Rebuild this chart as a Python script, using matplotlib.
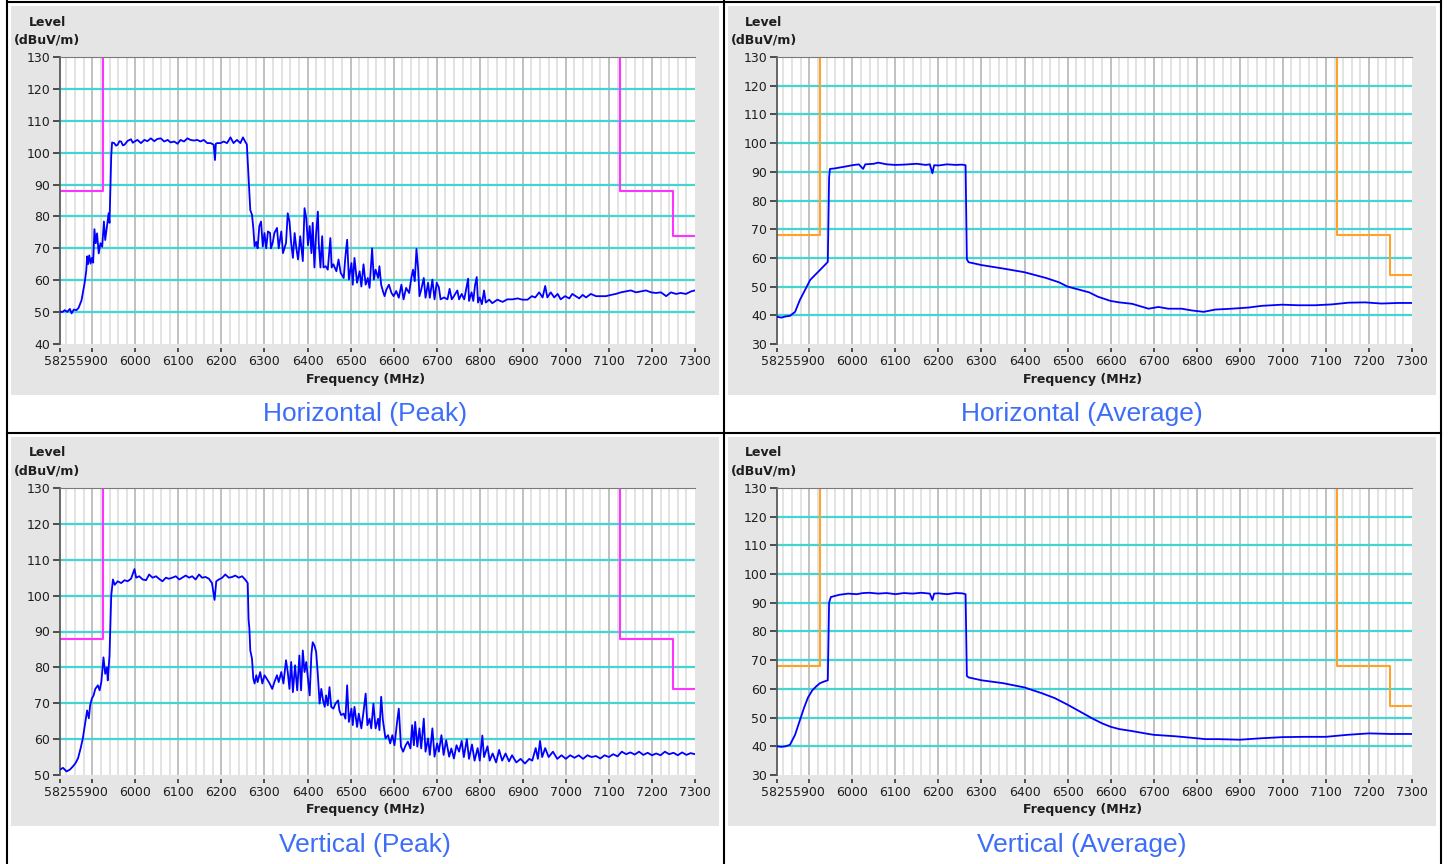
import matplotlib
matplotlib.use('Agg')
import matplotlib.pyplot as plt
from matplotlib.patches import Rectangle
from matplotlib.lines import Line2D

# --- data ------------------------------------------------------------------
x_ticks = [5825, 5900, 6000, 6100, 6200, 6300, 6400, 6500, 6600, 6700,
           6800, 6900, 7000, 7100, 7200, 7300]

# limit lines (dBuV/m)
peak_limit_lo_freq = [5825, 5925, 5925]
peak_limit_lo_level = [88, 88, 130]
peak_limit_hi_freq = [7125, 7125, 7250, 7250, 7300]
peak_limit_hi_level = [130, 88, 88, 74, 74]
avg_limit_lo_freq = [5825, 5925, 5925]
avg_limit_lo_level = [68, 68, 130]
avg_limit_hi_freq = [7125, 7125, 7250, 7250, 7300]
avg_limit_hi_level = [130, 68, 68, 54, 54]

# Horizontal (Peak)
h_peak_freq = [
    5825, 5830, 5836, 5842, 5848, 5852, 5857, 5863, 5868, 5875, 5882, 5886, 5888, 5890, 5893, 5896,
    5899, 5902, 5905, 5908, 5911, 5915, 5919, 5923, 5927, 5930, 5934, 5938, 5940, 5944, 5946, 5951,
    5955, 5959, 5963, 5967, 5971, 5975, 5982, 5990, 5994, 5998, 6005, 6013, 6021, 6028, 6036, 6044,
    6051, 6059, 6067, 6075, 6082, 6090, 6098, 6105, 6113, 6121, 6128, 6136, 6144, 6151, 6159, 6167,
    6175, 6182, 6185, 6187, 6190, 6198, 6205, 6213, 6221, 6228, 6236, 6244, 6250, 6255, 6259, 6263,
    6265, 6267, 6271, 6274, 6277, 6281, 6284, 6288, 6292, 6296, 6300, 6304, 6308, 6313, 6315, 6319,
    6323, 6329, 6333, 6339, 6343, 6350, 6354, 6358, 6362, 6366, 6370, 6374, 6378, 6383, 6389, 6393,
    6397, 6401, 6405, 6409, 6412, 6416, 6420, 6424, 6426, 6430, 6434, 6437, 6442, 6447, 6453, 6456,
    6460, 6467, 6472, 6477, 6484, 6488, 6492, 6496, 6502, 6505, 6509, 6515, 6521, 6525, 6530, 6535,
    6540, 6544, 6550, 6554, 6558, 6564, 6567, 6571, 6575, 6579, 6583, 6589, 6595, 6600, 6606, 6612,
    6618, 6623, 6629, 6636, 6641, 6645, 6649, 6653, 6657, 6660, 6664, 6670, 6674, 6680, 6684, 6690,
    6695, 6700, 6705, 6709, 6717, 6725, 6730, 6735, 6740, 6748, 6752, 6758, 6764, 6767, 6773, 6775,
    6781, 6785, 6789, 6793, 6796, 6800, 6805, 6810, 6814, 6822, 6829, 6841, 6853, 6864, 6876, 6888,
    6899, 6911, 6921, 6929, 6938, 6946, 6952, 6957, 6965, 6973, 6981, 6988, 6998, 7008, 7015, 7023,
    7031, 7039, 7047, 7058, 7070, 7081, 7093, 7105, 7116, 7128, 7140, 7151, 7163, 7174, 7186, 7198,
    7209, 7221, 7233, 7244, 7256, 7267, 7279, 7291, 7300]
h_peak_level = [
    50.2, 50.0, 50.6, 50.1, 51.0, 49.6, 50.8, 50.6, 51.3, 53.7, 59.0, 63.0, 67.5, 65.0, 67.8, 65.2,
    67.0, 65.5, 76.0, 71.6, 74.7, 68.4, 71.6, 70.5, 78.4, 72.6, 76.8, 81.0, 78.0, 99.0, 103.2, 103.0,
    102.2, 102.5, 103.6, 103.5, 102.3, 102.5, 103.7, 104.2, 103.1, 103.5, 104.0, 103.0, 104.0, 103.6, 104.5, 103.6,
    104.3, 104.5, 103.5, 104.0, 103.2, 103.5, 102.8, 104.0, 103.5, 104.5, 104.0, 103.8, 104.0, 103.5, 104.0, 103.0,
    103.0, 102.5, 97.7, 102.8, 103.0, 103.0, 103.5, 103.0, 104.8, 103.0, 104.0, 103.0, 104.8, 103.5, 102.6, 92.6,
    88.0, 82.0, 80.5, 76.4, 70.6, 72.0, 70.0, 77.0, 78.4, 70.6, 74.8, 70.0, 75.3, 74.8, 70.0, 71.7,
    74.8, 76.4, 70.0, 75.3, 68.5, 71.7, 81.0, 78.4, 71.7, 67.0, 74.8, 70.0, 66.5, 73.8, 66.0, 82.6,
    79.5, 71.0, 77.0, 68.5, 78.0, 64.0, 74.8, 81.5, 71.7, 64.0, 73.8, 64.0, 64.4, 63.3, 73.2, 64.0,
    65.0, 62.8, 66.5, 62.3, 60.7, 67.5, 72.7, 60.2, 65.4, 58.6, 67.0, 59.2, 62.8, 58.0, 65.0, 58.6,
    60.7, 57.6, 70.0, 60.2, 63.3, 60.7, 64.4, 58.6, 56.6, 55.0, 57.0, 58.6, 56.0, 55.0, 56.6, 54.5,
    58.6, 54.0, 57.6, 56.0, 60.7, 63.3, 59.7, 69.8, 63.3, 55.0, 57.0, 60.7, 54.5, 59.2, 54.5, 60.2,
    54.0, 59.2, 57.8, 54.0, 54.6, 54.0, 57.3, 54.0, 55.0, 56.8, 54.0, 55.7, 54.0, 56.2, 60.5, 53.5,
    56.2, 53.5, 58.4, 61.0, 53.0, 54.6, 52.5, 56.8, 53.0, 53.9, 52.8, 53.9, 53.2, 54.0, 54.0, 54.3,
    53.9, 53.9, 55.0, 54.6, 56.2, 54.6, 58.2, 54.6, 56.2, 54.6, 55.7, 54.0, 55.0, 54.3, 55.7, 55.0,
    54.3, 55.4, 54.6, 55.7, 55.0, 55.0, 55.0, 55.4, 55.7, 56.2, 56.5, 56.8, 56.2, 56.5, 56.8, 56.2,
    56.0, 56.2, 55.0, 56.2, 55.7, 56.0, 55.7, 56.5, 56.8]

# Vertical (Peak)
v_peak_freq = [
    5825, 5832, 5840, 5848, 5855, 5861, 5867, 5873, 5878, 5884, 5888, 5892, 5895, 5899, 5903, 5907,
    5913, 5917, 5921, 5926, 5930, 5934, 5936, 5940, 5944, 5948, 5952, 5959, 5967, 5975, 5982, 5990,
    5998, 6002, 6009, 6017, 6025, 6032, 6040, 6048, 6055, 6063, 6071, 6078, 6086, 6094, 6102, 6109,
    6117, 6125, 6132, 6140, 6148, 6155, 6163, 6171, 6178, 6184, 6188, 6194, 6202, 6209, 6217, 6225,
    6232, 6240, 6248, 6255, 6261, 6263, 6265, 6267, 6271, 6274, 6277, 6281, 6284, 6290, 6295, 6300,
    6305, 6312, 6318, 6323, 6329, 6333, 6339, 6344, 6350, 6354, 6358, 6362, 6366, 6371, 6376, 6381,
    6385, 6389, 6393, 6397, 6401, 6405, 6409, 6412, 6416, 6420, 6424, 6428, 6432, 6436, 6440, 6443,
    6447, 6451, 6455, 6460, 6465, 6471, 6474, 6478, 6484, 6488, 6492, 6496, 6502, 6505, 6509, 6515,
    6519, 6525, 6530, 6535, 6539, 6544, 6548, 6553, 6558, 6564, 6567, 6571, 6575, 6581, 6587, 6592,
    6597, 6602, 6608, 6612, 6617, 6622, 6628, 6633, 6639, 6643, 6647, 6650, 6655, 6660, 6664, 6670,
    6674, 6680, 6684, 6690, 6695, 6701, 6705, 6711, 6716, 6722, 6729, 6734, 6740, 6746, 6752, 6758,
    6763, 6770, 6775, 6782, 6788, 6795, 6800, 6806, 6810, 6818, 6823, 6830, 6838, 6845, 6852, 6860,
    6868, 6875, 6885, 6895, 6905, 6915, 6922, 6930, 6935, 6940, 6945, 6952, 6960, 6970, 6980, 6990,
    7000, 7010, 7020, 7030, 7040, 7050, 7060, 7070, 7080, 7090, 7100, 7110, 7120, 7130, 7140, 7150,
    7160, 7170, 7180, 7190, 7200, 7210, 7220, 7230, 7240, 7250, 7260, 7270, 7280, 7290, 7300]
v_peak_level = [
    51.5, 52.0, 51.0, 51.5, 52.4, 53.3, 54.7, 57.5, 60.2, 64.8, 68.0, 65.8, 69.4, 71.3, 72.2, 74.0,
    75.0, 73.6, 75.9, 82.8, 78.2, 80.0, 76.4, 83.3, 100.0, 104.5, 103.0, 104.0, 103.5, 104.3, 104.0, 104.7,
    107.4, 105.0, 105.4, 104.5, 104.3, 105.9, 105.0, 105.4, 104.7, 104.0, 105.0, 104.7, 105.0, 105.4, 104.5, 105.0,
    105.6, 105.0, 105.4, 104.5, 105.9, 105.0, 105.2, 104.7, 103.5, 98.8, 104.0, 104.5, 105.0, 105.9, 105.0, 105.2,
    105.6, 105.0, 105.4, 104.5, 103.5, 93.4, 90.7, 84.7, 82.4, 76.9, 75.5, 77.8, 75.9, 78.7, 75.5, 77.8,
    76.9, 75.5, 74.0, 75.9, 77.8, 75.9, 78.7, 75.5, 82.0, 78.7, 74.0, 81.5, 73.1, 80.6, 73.6, 83.3,
    73.6, 84.7, 78.7, 81.5, 76.9, 72.2, 83.8, 87.0, 86.1, 84.3, 77.8, 69.9, 74.0, 70.8, 69.0, 72.2,
    69.4, 74.5, 69.0, 68.5, 69.9, 70.8, 68.0, 66.7, 67.1, 65.7, 75.0, 64.8, 68.5, 63.9, 69.0, 63.4,
    67.1, 63.0, 67.6, 72.7, 63.9, 65.7, 63.0, 69.9, 63.0, 65.7, 62.5, 71.8, 65.3, 60.2, 61.1, 58.8,
    61.1, 58.3, 64.8, 68.5, 57.9, 56.5, 58.3, 59.3, 57.4, 63.9, 58.3, 64.8, 57.9, 63.0, 57.4, 65.7,
    56.5, 60.2, 55.6, 63.0, 55.1, 58.8, 56.5, 61.1, 55.6, 59.7, 55.1, 57.4, 54.6, 58.3, 56.5, 59.5,
    55.0, 60.0, 54.5, 58.5, 54.0, 57.5, 54.0, 61.0, 55.0, 58.0, 54.0, 56.0, 53.5, 57.0, 54.0, 56.0,
    53.8, 55.5, 53.5, 54.5, 53.2, 54.5, 54.0, 57.5, 54.5, 59.5, 55.0, 57.5, 55.0, 56.5, 54.5, 55.5,
    54.5, 55.5, 54.8, 55.5, 54.5, 55.5, 55.0, 55.3, 54.6, 55.5, 55.0, 55.8, 55.2, 56.5, 55.8, 56.3,
    55.7, 56.5, 55.6, 56.2, 55.5, 56.0, 55.5, 56.5, 55.8, 56.2, 55.5, 56.3, 55.6, 56.1, 55.8]

# Horizontal (Average)
h_avg_freq = [
    5825, 5835, 5845, 5855, 5867, 5878, 5890, 5902, 5913, 5925, 5936, 5943, 5946, 5948, 5960, 5975,
    5990, 6000, 6015, 6025, 6030, 6050, 6060, 6080, 6100, 6120, 6150, 6170, 6180, 6186, 6190, 6200,
    6220, 6240, 6255, 6263, 6266, 6270, 6300, 6350, 6400, 6450, 6480, 6500, 6550, 6570, 6600, 6620,
    6650, 6688, 6711, 6734, 6765, 6788, 6816, 6843, 6881, 6920, 6951, 6998, 7036, 7075, 7114, 7153,
    7191, 7229, 7268, 7300]
h_avg_level = [
    39.5, 39.2, 39.6, 39.8, 41.2, 45.3, 48.8, 52.3, 54.0, 55.8, 57.5, 58.6, 88.0, 91.0, 91.2, 91.6,
    92.0, 92.3, 92.6, 91.0, 92.6, 92.8, 93.2, 92.6, 92.4, 92.5, 92.8, 92.4, 92.6, 89.5, 92.3, 92.2,
    92.6, 92.4, 92.5, 92.3, 59.5, 58.5, 57.5, 56.3, 55.0, 53.0, 51.5, 50.0, 48.0, 46.5, 45.0, 44.5,
    44.0, 42.3, 42.9, 42.3, 42.3, 41.7, 41.2, 42.0, 42.3, 42.7, 43.3, 43.7, 43.5, 43.5, 43.8, 44.4,
    44.5, 44.1, 44.3, 44.3]

# Vertical (Average)
v_avg_freq = [
    5825, 5835, 5845, 5855, 5867, 5878, 5888, 5897, 5907, 5917, 5925, 5935, 5943, 5946, 5950, 5970,
    5990, 6010, 6025, 6040, 6060, 6080, 6100, 6120, 6140, 6160, 6180, 6186, 6190, 6200, 6220, 6240,
    6255, 6263, 6266, 6270, 6300, 6350, 6400, 6440, 6470, 6500, 6530, 6560, 6580, 6600, 6620, 6650,
    6680, 6700, 6750, 6800, 6820, 6850, 6900, 6950, 7000, 7050, 7100, 7150, 7200, 7250, 7300]
v_avg_level = [
    40.0, 39.8, 40.0, 40.5, 44.0, 49.0, 53.5, 57.0, 59.5, 61.0, 62.0, 62.6, 63.0, 90.0, 92.0, 92.8,
    93.2, 93.0, 93.4, 93.5, 93.2, 93.4, 93.0, 93.4, 93.2, 93.5, 93.2, 91.0, 93.2, 93.3, 93.0, 93.4,
    93.3, 93.0, 64.5, 64.0, 63.0, 62.0, 60.5, 58.5, 56.8, 54.5, 52.0, 49.5, 48.0, 46.8, 46.0, 45.3,
    44.5, 44.0, 43.5, 42.8, 42.5, 42.5, 42.3, 42.8, 43.2, 43.3, 43.3, 44.0, 44.5, 44.3, 44.3]

# --- layout ---------------------------------------------------------------
W, H = 1449, 864
fig = plt.figure(figsize=(W / 100, H / 100), dpi=100)
fig.patch.set_facecolor('white')


def fx(px):
    return px / W


def fy(py):
    return 1 - py / H


BLUE = '#0000ff'
CYAN = '#44d4d4'
GRID_LIGHT = '#e0e0e0'
GRID_DARK = '#bcbcbc'
TXT = '#1e1e1e'

panels = [
    # title, freq, level, ymin, limit colour, limits, dx, dy
    ('Horizontal (Peak)', h_peak_freq, h_peak_level, 40, '#ff33ff',
     (peak_limit_lo_freq, peak_limit_lo_level, peak_limit_hi_freq, peak_limit_hi_level), 0, 0),
    ('Horizontal (Average)', h_avg_freq, h_avg_level, 30, '#ffa228',
     (avg_limit_lo_freq, avg_limit_lo_level, avg_limit_hi_freq, avg_limit_hi_level), 717, 0),
    ('Vertical (Peak)', v_peak_freq, v_peak_level, 50, '#ff33ff',
     (peak_limit_lo_freq, peak_limit_lo_level, peak_limit_hi_freq, peak_limit_hi_level), 0, 431),
    ('Vertical (Average)', v_avg_freq, v_avg_level, 30, '#ffa228',
     (avg_limit_lo_freq, avg_limit_lo_level, avg_limit_hi_freq, avg_limit_hi_level), 717, 431),
]

for title, freq, level, ymin, lcol, lims, dx, dy in panels:
    # grey chart background
    fig.add_artist(Rectangle((fx(11 + dx), fy(395 + dy)), fx(708), 389 / H,
                             transform=fig.transFigure, facecolor='#e5e5e5',
                             edgecolor='none', zorder=0))
    ax = fig.add_axes([fx(60 + dx), fy(344 + dy), fx(635), 287 / H])
    ax.set_facecolor('white')
    ax.set_xlim(5825, 7300)
    ax.set_ylim(ymin, 130)

    # grid
    for f in range(5840, 7300, 20):
        ax.axvline(f, color=GRID_DARK if f % 100 == 0 else GRID_LIGHT, lw=1.3, zorder=1)
    for y in range(ymin + 10, 130, 10):
        ax.axhline(y, color=CYAN, lw=1.6, zorder=1)

    # limits and trace
    ax.plot(lims[0], lims[1], color=lcol, lw=1.5, zorder=2)
    ax.plot(lims[2], lims[3], color=lcol, lw=1.5, zorder=2)
    ax.plot(freq, level, color=BLUE, lw=1.3, zorder=3)

    ax.set_xticks(x_ticks)
    ax.set_xticklabels([str(t) for t in x_ticks])
    ax.set_yticks(range(ymin, 131, 10))
    for s in ['right', 'bottom']:
        ax.spines[s].set_visible(False)
    ax.spines['bottom'].set_position(('outward', 3))
    ax.spines['top'].set_color('#7a7a7a')
    ax.spines['left'].set_color('#5a5a5a')
    ax.spines['left'].set_linewidth(1.3)
    ax.tick_params(axis='x', length=3, width=1.2, color='#333333', pad=2,
                   labelsize=9, labelcolor=TXT)
    ax.tick_params(axis='y', length=5, width=1.2, color='#333333', pad=2,
                   labelsize=9, labelcolor=TXT)

    fig.text(fx(47 + dx), fy(22 + dy), 'Level', ha='center', va='center',
             fontsize=9, fontweight='bold', color=TXT)
    fig.text(fx(47 + dx), fy(40 + dy), '(dBuV/m)', ha='center', va='center',
             fontsize=9, fontweight='bold', color=TXT)
    fig.text(fx(366 + dx), fy(379 + dy), 'Frequency (MHz)', ha='center', va='center',
             fontsize=9, fontweight='bold', color=TXT)
    fig.text(fx(365 + dx), fy(414 + dy), title, ha='center', va='center',
             fontsize=19, family='Liberation Sans', color='#3d6ef7')

# cell borders
for x in [7, 724, 1441]:
    fig.add_artist(Line2D([fx(x), fx(x)], [0, fy(1)], transform=fig.transFigure,
                          color='black', lw=1.5))
for y in [1.5, 432.5]:
    fig.add_artist(Line2D([fx(7), fx(1441)], [fy(y), fy(y)], transform=fig.transFigure,
                          color='black', lw=1.5))

fig.savefig('out.png', dpi=100)
